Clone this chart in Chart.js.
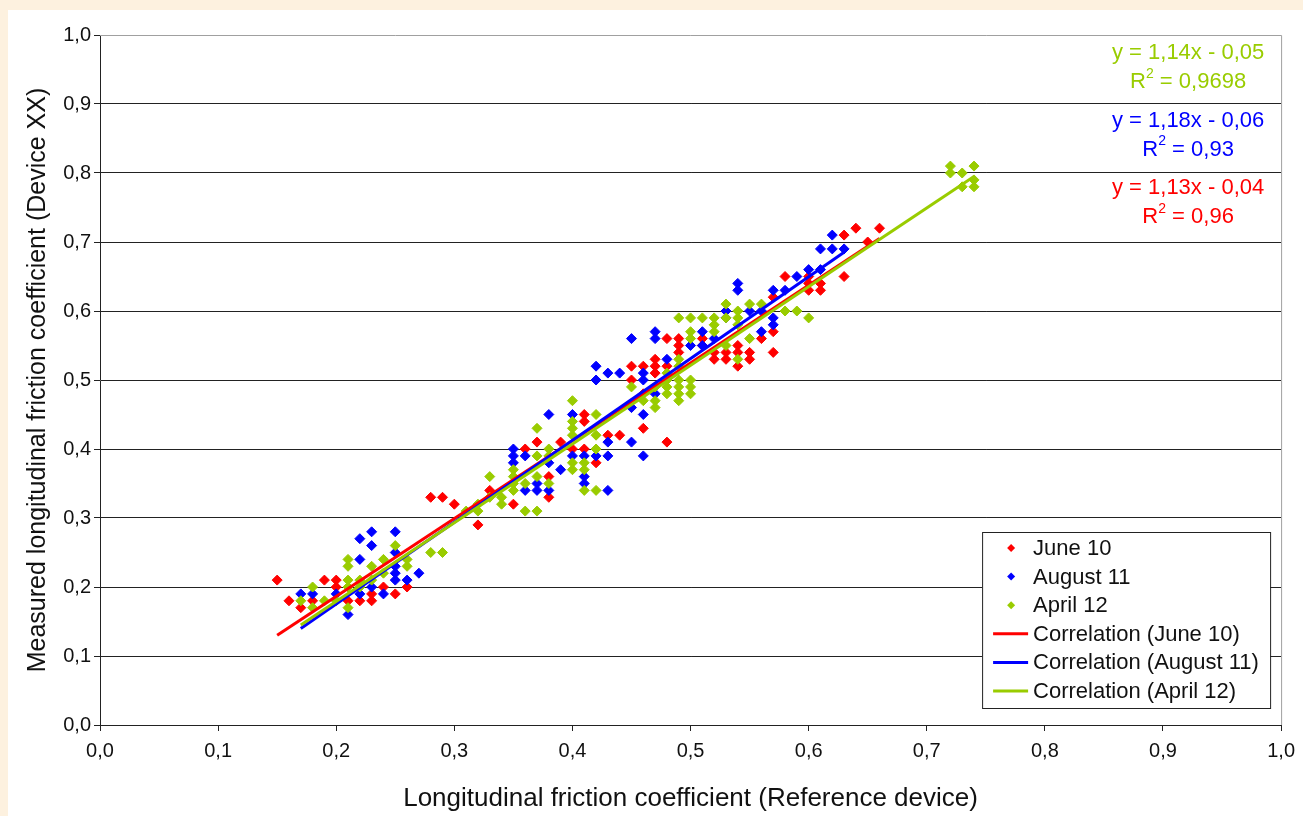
<!DOCTYPE html>
<html>
<head>
<meta charset="utf-8">
<script src="https://cdn.jsdelivr.net/npm/chart.js@4.4.0/dist/chart.umd.min.js"></script>
<style>
  html, body { margin: 0; padding: 0; background: #fdf1df; }
  #wrap { position: absolute; left: 8px; top: 10px; width: 1295px; height: 806px; background: #ffffff; }
</style>
</head>
<body>
<div id="wrap"><canvas id="chart" width="1295" height="806"></canvas></div>
<script>
// values
var june10 = [[0.15,0.21],[0.16,0.18],[0.17,0.17],[0.18,0.18],[0.19,0.21],[0.20,0.21],[0.20,0.20],[0.21,0.18],[0.22,0.18],
  [0.23,0.19],[0.23,0.18],[0.24,0.20],[0.25,0.19],[0.26,0.20],[0.28,0.33],[0.29,0.33],[0.30,0.32],[0.32,0.29],[0.33,0.34],
  [0.35,0.32],[0.36,0.40],[0.37,0.41],[0.38,0.36],[0.38,0.33],[0.39,0.41],[0.40,0.40],[0.41,0.40],[0.41,0.45],[0.41,0.44],
  [0.42,0.38],[0.43,0.42],[0.44,0.42],[0.45,0.52],[0.45,0.50],[0.46,0.52],[0.46,0.48],[0.46,0.43],[0.47,0.53],[0.47,0.52],
  [0.47,0.51],[0.48,0.56],[0.48,0.52],[0.48,0.41],[0.49,0.56],[0.49,0.55],[0.49,0.54],[0.51,0.56],[0.51,0.55],[0.52,0.54],
  [0.52,0.53],[0.53,0.54],[0.53,0.53],[0.53,0.60],[0.54,0.55],[0.54,0.54],[0.54,0.52],[0.55,0.54],[0.55,0.53],[0.56,0.56],
  [0.57,0.57],[0.57,0.54],[0.57,0.62],[0.58,0.65],[0.60,0.65],[0.60,0.64],[0.60,0.63],[0.61,0.64],[0.61,0.63],[0.63,0.65],
  [0.63,0.71],[0.64,0.72],[0.65,0.70],[0.66,0.72]];

var august11 = [[0.17,0.19],[0.18,0.19],[0.20,0.19],[0.21,0.16],[0.22,0.19],[0.22,0.24],[0.22,0.27],[0.23,0.28],[0.23,0.26],
  [0.23,0.20],[0.24,0.19],[0.25,0.28],[0.25,0.25],[0.25,0.23],[0.25,0.22],[0.25,0.21],[0.26,0.21],[0.27,0.22],[0.35,0.40],
  [0.35,0.39],[0.35,0.38],[0.36,0.39],[0.36,0.34],[0.37,0.35],[0.37,0.34],[0.38,0.45],[0.38,0.38],[0.38,0.34],[0.39,0.37],
  [0.40,0.45],[0.40,0.39],[0.41,0.39],[0.41,0.36],[0.41,0.35],[0.42,0.52],[0.42,0.50],[0.42,0.39],[0.43,0.51],[0.43,0.41],
  [0.43,0.39],[0.43,0.34],[0.44,0.51],[0.45,0.56],[0.45,0.46],[0.45,0.41],[0.46,0.51],[0.46,0.50],[0.46,0.45],[0.46,0.39],
  [0.47,0.57],[0.47,0.56],[0.47,0.48],[0.48,0.53],[0.50,0.55],[0.51,0.57],[0.51,0.55],[0.52,0.56],[0.53,0.59],[0.53,0.60],
  [0.54,0.64],[0.54,0.63],[0.55,0.60],[0.56,0.60],[0.56,0.57],[0.57,0.59],[0.57,0.58],[0.57,0.63],[0.58,0.63],[0.59,0.65],
  [0.60,0.66],[0.61,0.66],[0.61,0.69],[0.62,0.69],[0.62,0.71],[0.63,0.69]];

var april12 = [[0.17,0.18],[0.18,0.20],[0.18,0.17],[0.19,0.18],[0.20,0.18],[0.21,0.24],[0.21,0.23],[0.21,0.21],[0.21,0.20],
  [0.21,0.17],[0.22,0.21],[0.22,0.20],[0.23,0.23],[0.23,0.21],[0.24,0.24],[0.24,0.22],[0.25,0.26],[0.26,0.24],[0.26,0.23],
  [0.28,0.25],[0.29,0.25],[0.31,0.31],[0.32,0.32],[0.32,0.31],[0.33,0.36],[0.33,0.33],[0.34,0.33],[0.34,0.32],[0.35,0.37],
  [0.35,0.36],[0.35,0.35],[0.35,0.34],[0.36,0.35],[0.36,0.31],[0.37,0.43],[0.37,0.39],[0.37,0.36],[0.37,0.31],[0.38,0.40],
  [0.38,0.39],[0.38,0.35],[0.40,0.47],[0.40,0.44],[0.40,0.43],[0.40,0.42],[0.40,0.38],[0.40,0.37],[0.41,0.38],[0.41,0.37],
  [0.41,0.34],[0.42,0.45],[0.42,0.42],[0.42,0.40],[0.42,0.34],[0.45,0.49],[0.46,0.47],[0.47,0.49],[0.47,0.47],[0.47,0.46],
  [0.48,0.51],[0.48,0.50],[0.48,0.49],[0.48,0.48],[0.49,0.59],[0.49,0.53],[0.49,0.52],[0.49,0.50],[0.49,0.49],[0.49,0.48],
  [0.49,0.47],[0.50,0.59],[0.50,0.57],[0.50,0.56],[0.50,0.50],[0.50,0.49],[0.50,0.48],[0.51,0.59],[0.52,0.59],[0.52,0.58],
  [0.52,0.57],[0.53,0.61],[0.53,0.59],[0.53,0.55],[0.54,0.60],[0.54,0.59],[0.54,0.58],[0.54,0.53],[0.55,0.61],[0.55,0.56],
  [0.56,0.61],[0.58,0.60],[0.59,0.60],[0.60,0.59],[0.72,0.81],[0.72,0.80],[0.73,0.80],[0.73,0.78],[0.74,0.81],[0.74,0.79],
  [0.74,0.78]];

// correlation line end points
var juneFitX = [0.15, 0.66];
var juneFitY = [0.13, 0.705];
var augustFitX = [0.17, 0.63];
var augustFitY = [0.14, 0.685];
var aprilFitX = [0.17, 0.74];
var aprilFitY = [0.145, 0.795];

var seriesNames = ['June 10', 'August 11', 'April 12'];
var seriesColors = ['#ff0000', '#0000ff', '#99cc00'];
var fitEquations = ['y = 1,13x - 0,04', 'y = 1,18x - 0,06', 'y = 1,14x - 0,05'];
var fitR2 = ['0,96', '0,93', '0,9698'];

var FONT = '"Liberation Sans", Arial, sans-serif';
var TEXT = '#111111';

function toPoints(pairs) {
  return pairs.map(function (p) { return { x: p[0], y: p[1] }; });
}
function toLine(xs, ys) {
  return xs.map(function (x, i) { return { x: x, y: ys[i] }; });
}
function fmt(v) {
  return Number(v).toFixed(1).replace('.', ',');
}

function pointSet(i, data, order) {
  return {
    type: 'scatter', label: seriesNames[i], data: toPoints(data), order: order,
    pointStyle: 'rectRot', pointRadius: 5, pointBorderWidth: 1,
    backgroundColor: seriesColors[i], borderColor: seriesColors[i]
  };
}
function lineSet(i, xs, ys, order) {
  return {
    type: 'line', label: 'Correlation (' + seriesNames[i] + ')', data: toLine(xs, ys), order: order,
    borderColor: seriesColors[i], backgroundColor: seriesColors[i], borderWidth: 3,
    pointRadius: 0, fill: false, tension: 0
  };
}

// legend, equations and plot frame drawn by hand
var decorations = {
  id: 'decorations',
  afterDraw: function (chart) {
    var ctx = chart.ctx;
    var a = chart.chartArea;
    ctx.save();

    // grey frame on top and right of plot area
    ctx.strokeStyle = '#a0a0a0';
    ctx.lineWidth = 1;
    ctx.beginPath();
    ctx.moveTo(a.left, a.top + 0.5);
    ctx.lineTo(a.right + 0.5, a.top + 0.5);
    ctx.lineTo(a.right + 0.5, a.bottom);
    ctx.stroke();

    // trend equations
    ctx.font = '22px ' + FONT;
    ctx.textBaseline = 'middle';
    var cx = a.right - 93;
    var rows = [2, 1, 0];
    rows.forEach(function (s, k) {
      var y0 = a.top + 18 + k * 67.5;
      ctx.fillStyle = seriesColors[s];
      ctx.textAlign = 'center';
      ctx.fillText(fitEquations[s], cx, y0);
      var rest = ' = ' + fitR2[s];
      ctx.font = '22px ' + FONT;
      var wR = ctx.measureText('R').width;
      var wRest = ctx.measureText(rest).width;
      ctx.font = '14px ' + FONT;
      var w2 = ctx.measureText('2').width;
      var total = wR + w2 + wRest;
      var x = cx - total / 2;
      var y1 = y0 + 29;
      ctx.textAlign = 'left';
      ctx.font = '22px ' + FONT;
      ctx.fillText('R', x, y1);
      ctx.font = '14px ' + FONT;
      ctx.fillText('2', x + wR, y1 - 8);
      ctx.font = '22px ' + FONT;
      ctx.fillText(rest, x + wR + w2, y1);
    });

    // legend box
    var bw = 288, bh = 176;
    var bx = a.right - 11 - bw, by = a.bottom - 17 - bh;
    ctx.fillStyle = '#ffffff';
    ctx.fillRect(bx, by, bw, bh);
    ctx.strokeStyle = '#222222';
    ctx.lineWidth = 1;
    ctx.strokeRect(bx + 0.5, by + 0.5, bw, bh);

    var items = chart.data.datasets;
    ctx.font = '22px ' + FONT;
    ctx.textAlign = 'left';
    ctx.textBaseline = 'middle';
    items.forEach(function (ds, i) {
      var y = by + 16 + i * 28.6;
      ctx.fillStyle = ds.borderColor;
      ctx.strokeStyle = ds.borderColor;
      if (ds.type === 'scatter') {
        var mx = bx + 29, r = 4;
        ctx.beginPath();
        ctx.moveTo(mx - r, y); ctx.lineTo(mx, y - r); ctx.lineTo(mx + r, y); ctx.lineTo(mx, y + r);
        ctx.closePath();
        ctx.fill();
      } else {
        ctx.lineWidth = 3;
        ctx.beginPath();
        ctx.moveTo(bx + 11, y); ctx.lineTo(bx + 46, y);
        ctx.stroke();
      }
      ctx.fillStyle = TEXT;
      ctx.fillText(ds.label, bx + 51, y + 1);
    });
    ctx.restore();
  }
};

var chart = new Chart(document.getElementById('chart'), {
  type: 'scatter',
  data: {
    datasets: [
      pointSet(0, june10, 5),
      pointSet(1, august11, 4),
      pointSet(2, april12, 3),
      lineSet(0, juneFitX, juneFitY, 2),
      lineSet(1, augustFitX, augustFitY, 1),
      lineSet(2, aprilFitX, aprilFitY, 0)
    ]
  },
  options: {
    responsive: false,
    devicePixelRatio: 1,
    animation: false,
    layout: { padding: { top: 25, right: 20, left: 0, bottom: 0 } },
    plugins: { legend: { display: false }, tooltip: { enabled: false } },
    scales: {
      x: {
        type: 'linear', min: 0, max: 1,
        afterFit: function (s) { s.height = 91; },
        ticks: { stepSize: 0.1, callback: fmt, color: TEXT, font: { family: FONT, size: 20 }, padding: 8, maxRotation: 0 },
        grid: { drawOnChartArea: false, drawTicks: true, tickLength: 6, color: '#222222' },
        border: { color: '#222222', width: 1 },
        title: { display: true, text: 'Longitudinal friction coefficient (Reference device)', color: TEXT,
          font: { family: FONT, size: 26 }, padding: { top: 0, bottom: 2 } }
      },
      y: {
        type: 'linear', min: 0, max: 1,
        afterFit: function (s) { s.width = 92; },
        ticks: { stepSize: 0.1, callback: fmt, color: TEXT, font: { family: FONT, size: 20 }, padding: 3 },
        grid: {
          tickLength: 6, tickColor: '#222222',
          color: function (c) { return c.tick && c.tick.value === 1 ? 'rgba(0,0,0,0)' : '#222222'; }
        },
        border: { color: '#222222', width: 1 },
        title: { display: true, text: 'Measured longitudinal friction coefficient (Device XX)', color: TEXT,
          font: { family: FONT, size: 25 }, padding: { top: 15, bottom: 0 } }
      }
    }
  },
  plugins: [decorations]
});
</script>
</body>
</html>
